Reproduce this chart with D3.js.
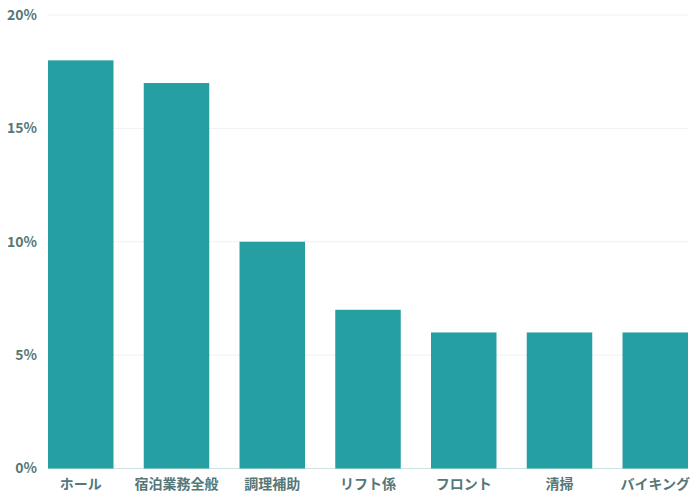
<!DOCTYPE html>
<html>
<head>
<meta charset="utf-8">
<script src="https://cdn.jsdelivr.net/npm/d3@7"></script>
<style>
  body { margin: 0; background: #fff; }
  text { font-family: "Noto Sans CJK JP", "Noto Sans", sans-serif; }
</style>
</head>
<body>
<div id="chart"></div>
<script>
const categories = ["ホール", "宿泊業務全般", "調理補助", "リフト係", "フロント", "清掃", "バイキング"];
const values = [18, 17, 10, 7, 6, 6, 6];
const yTicks = [0, 5, 10, 15, 20];

const width = 695;
const height = 500;
const margin = ({ top: 15, right: 7, bottom: 31.5, left: 48 });

const svg = d3.select("#chart").append("svg")
    .attr("width", width)
    .attr("height", height);

const x = d3.scaleBand()
    .domain(categories)
    .range([margin.left, width - margin.right])
    .paddingInner(0.316)
    .paddingOuter(0);

const y = d3.scaleLinear()
    .domain([0, 20])
    .range([height - margin.bottom, margin.top]);

// grid lines
svg.append("g")
    .selectAll("line")
    .data(yTicks)
    .enter()
    .append("line")
    .attr("x1", margin.left)
    .attr("x2", width - margin.right)
    .attr("y1", d => y(d))
    .attr("y2", d => y(d))
    .attr("stroke", d => d === 0 ? "#cfe2e2" : "#eef2f2")
    .attr("stroke-width", 1);

// y tick labels
svg.append("g")
    .selectAll("text")
    .data(yTicks)
    .enter()
    .append("text")
    .attr("x", 37)
    .attr("y", d => y(d))
    .attr("dy", "0.35em")
    .attr("text-anchor", "end")
    .attr("font-size", 14)
    .attr("font-weight", 600)
    .attr("fill", "#557777")
    .text(d => d + "%");

// bars
svg.append("g")
    .selectAll("rect")
    .data(values)
    .enter()
    .append("rect")
    .attr("x", (d, i) => x(categories[i]))
    .attr("width", x.bandwidth())
    .attr("y", d => y(d))
    .attr("height", d => y(0) - y(d))
    .attr("fill", "#259fa1");

// x labels
svg.append("g")
    .selectAll("text")
    .data(categories)
    .enter()
    .append("text")
    .attr("x", d => x(d) + x.bandwidth() / 2)
    .attr("y", 489)
    .attr("text-anchor", "middle")
    .attr("font-size", 14)
    .attr("font-weight", 600)
    .attr("fill", "#557777")
    .text(d => d);
</script>
</body>
</html>
